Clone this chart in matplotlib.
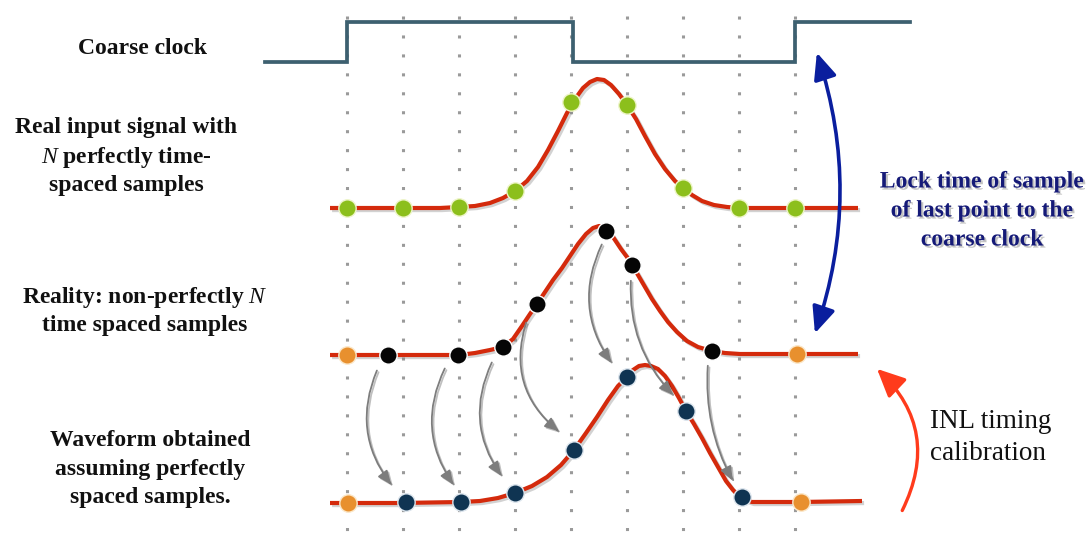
import matplotlib
matplotlib.use("Agg")
import matplotlib.pyplot as plt
from matplotlib.patches import FancyArrowPatch
import matplotlib.patheffects as pe

plt.rcParams['mathtext.fontset'] = 'custom'
plt.rcParams['mathtext.it'] = 'Liberation Serif:italic'
plt.rcParams['mathtext.rm'] = 'Liberation Serif'

# ---------------- data (picture coordinates, y grows downward) ----------------
grid_x = [347, 403, 459, 515, 571, 627, 683, 739, 795]

clock_x = [265, 347, 347, 573, 573, 795, 795, 910]
clock_y = [62, 62, 22, 22, 62, 62, 22, 22]

# Row 1: real input signal
real_curve_x = [330, 400, 440, 459, 475, 490, 503, 515, 527, 538, 548, 558, 567, 575, 583,
                590, 597, 604, 611, 619, 627, 636, 645, 655, 665, 675, 683, 692, 702, 714,
                727, 739, 800, 858]
real_curve_y = [208, 208, 208, 207, 206, 203, 198, 191, 181, 167, 150, 131, 113, 99, 88,
                82, 79, 80, 85, 94, 105, 119, 136, 154, 169, 181, 188, 195, 201, 205,
                207, 208, 208, 208]
green_x = [347, 403, 459, 515, 571, 627, 683, 739, 795]
green_y = [208, 208, 207, 191, 102, 105, 188, 208, 208]

# Row 2: reality (non-perfectly spaced)
reality_curve_x = [330, 400, 459, 475, 490, 503, 513, 522, 530, 537, 545, 553, 562, 570,
                   578, 586, 593, 599, 604, 609, 615, 621, 627, 632, 638, 645, 652, 660,
                   668, 677, 687, 698, 712, 725, 740, 800, 858]
reality_curve_y = [355, 355, 355, 353, 350, 347, 339, 326, 314, 304, 292, 280, 268, 256,
                   244, 234, 228, 226, 227, 231, 240, 249, 257, 265, 275, 287, 299, 311,
                   322, 332, 341, 347, 351, 353, 354, 354, 354]
black_x = [388, 458, 503, 537, 606, 632, 712]
black_y = [355, 355, 347, 304, 231, 265, 351]
reality_orange_x = [347, 797]
reality_orange_y = [355, 354]

# Row 3: waveform obtained assuming perfect spacing
obtained_curve_x = [330, 400, 461, 480, 498, 515, 532, 547, 561, 574, 586, 597, 608, 618,
                    627, 633, 639, 645, 651, 658, 665, 672, 679, 686, 694, 702, 710, 718,
                    726, 733, 738, 741, 746, 752, 760, 800, 862]
obtained_curve_y = [503, 503, 502, 501, 498, 493, 486, 477, 465, 450, 433, 417, 400, 386,
                    377, 370, 366, 365, 366, 369, 376, 386, 398, 411, 424, 438, 453, 467,
                    481, 490, 495, 497, 500, 502, 502, 502, 501]
navy_x = [406, 461, 515, 574, 627, 686, 742]
navy_y = [502, 502, 493, 450, 377, 411, 497]
obtained_orange_x = [348, 801]
obtained_orange_y = [503, 502]

# Gray re-mapping arrows: (start, end) in picture coordinates
map_start = [(378, 368), (446, 366), (493, 360), (527, 320), (603, 242), (631, 278), (708, 363)]
map_end = [(393, 487), (455, 487), (503, 478), (561, 433), (613, 365), (675, 397), (734, 483)]
map_rad = [0.3, 0.3, 0.3, 0.35, 0.3, 0.22, 0.15]

labels = [
    ("Coarse clock", 142, 48),
    ("Real input signal with", 126, 128),
    ("$N$ perfectly time-", 126, 157),
    ("spaced samples", 126, 185),
    ("Reality: non-perfectly $N$", 145, 297),
    ("time spaced samples", 145, 326),
    ("Waveform obtained", 150, 440),
    ("assuming perfectly", 150, 469),
    ("spaced samples.", 150, 497),
]
lock_lines = [("Lock time of sample", 982, 182), ("of last point to the", 982, 211),
              ("coarse clock", 982, 240)]
inl_lines = [("INL timing", 930, 422), ("calibration", 930, 453)]

# ---------------- drawing ----------------
fig = plt.figure(figsize=(10.91, 5.41), dpi=100)
ax = fig.add_axes([0, 0, 1, 1])
ax.set_xlim(0, 1091)
ax.set_ylim(541, 0)
ax.axis('off')

for gx in grid_x:
    ax.plot([gx, gx], [16, 541], color='#9a9a9a', lw=2.2, linestyle=(0, (1, 5.2)),
            dash_capstyle='butt', zorder=1)

ax.plot(clock_x, clock_y, color='#3d6070', lw=2.7, solid_joinstyle='miter', zorder=3)

shadow = [pe.SimpleLineShadow(offset=(1.5, -1.5), shadow_color='gray', alpha=0.35), pe.Normal()]
for cx, cy in [(real_curve_x, real_curve_y), (reality_curve_x, reality_curve_y),
               (obtained_curve_x, obtained_curve_y)]:
    ax.plot(cx, cy, color='#d42a0c', lw=3.0, solid_joinstyle='round', solid_capstyle='butt',
            zorder=3, path_effects=shadow)

# gray arrows
for (s, e, r) in zip(map_start, map_end, map_rad):
    a = FancyArrowPatch(s, e, connectionstyle=f"arc3,rad={r}",
                        arrowstyle="-|>,head_length=0.6,head_width=0.25", mutation_scale=14,
                        color='#7d7d7d', lw=1.3, zorder=4,
                        path_effects=[pe.SimpleLineShadow(offset=(1.2, -1.2), alpha=0.25), pe.Normal()])
    ax.add_patch(a)

mk = dict(linestyle='none', marker='o', markersize=12.5, markeredgewidth=1.0, zorder=5)
ax.plot(green_x, green_y, markerfacecolor='#8cbf1c', markeredgecolor='#eef5c8', **mk)
ax.plot(black_x, black_y, markerfacecolor='#050505', markeredgecolor='#ffffff', **mk)
ax.plot(reality_orange_x, reality_orange_y, markerfacecolor='#e8902e', markeredgecolor='#fbe7c8', **mk)
ax.plot(navy_x, navy_y, markerfacecolor='#0f3452', markeredgecolor='#dde6ee', **mk)
ax.plot(obtained_orange_x, obtained_orange_y, markerfacecolor='#e8902e', markeredgecolor='#fbe7c8', **mk)

# blue double arrow
blue = FancyArrowPatch((814, 336), (816, 50), connectionstyle="arc3,rad=0.17",
                       arrowstyle="<|-|>,head_length=0.8,head_width=0.35", mutation_scale=20,
                       color='#0a1e9e', lw=2.6, zorder=4)
ax.add_patch(blue)

# red calibration arrow
red = FancyArrowPatch((901, 513), (875, 367), connectionstyle="arc3,rad=0.38",
                      arrowstyle="-|>,head_length=0.85,head_width=0.4", mutation_scale=20,
                      color='#ff3b1c', lw=2.4, zorder=4)
ax.add_patch(red)

for txt, x, y in labels:
    ax.text(x, y, txt, ha='center', va='center', fontsize=17, fontweight='bold',
            family='Liberation Serif', color='#111111')

for txt, x, y in lock_lines:
    ax.text(x, y, txt, ha='center', va='center', fontsize=17, fontweight='bold',
            family='Liberation Serif', color='#151a78',
            path_effects=[pe.withSimplePatchShadow(offset=(1.5, -1.5), shadow_rgbFace='#888888', alpha=0.5)])

for txt, x, y in inl_lines:
    ax.text(x, y, txt, ha='left', va='center', fontsize=19.5,
            family='Liberation Serif', color='#111111')

fig.savefig('out.png', dpi=100)
